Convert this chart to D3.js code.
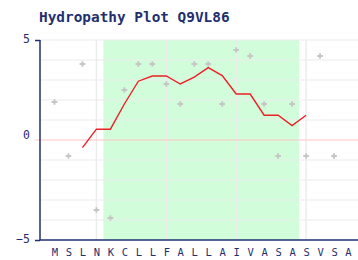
<!DOCTYPE html>
<html>
<head>
<meta charset="utf-8">
<script src="https://cdn.jsdelivr.net/npm/d3@7"></script>
<style>
  html, body { margin: 0; padding: 0; background: #fff; }
  svg { display: block; }
</style>
</head>
<body>
<div id="mainContainer"></div>
<script>
'use strict';

var svgWidth = 358,
    svgHeight = 260,
    navy = '#1f2f70';

// residues along the sequence
var residues = ['M', 'S', 'L', 'N', 'K', 'C', 'L', 'L', 'F', 'A', 'L',
                'L', 'A', 'I', 'V', 'A', 'S', 'A', 'S', 'V', 'S', 'A'];

// per-residue hydropathy (grey markers, first 21 residues shown)
var hydroValues = [1.9, -0.8, 3.8, -3.5, -3.9, 2.5, 3.8, 3.8, 2.8, 1.8, 3.8,
                   3.8, 1.8, 4.5, 4.2, 1.8, -0.8, 1.8, -0.8, 4.2, -0.8];

// window average (red line), starts at residue 3
var avgStart = 3;
var avgValues = [-0.38, 0.54, 0.54, 1.8, 2.94, 3.2, 3.2, 2.8, 3.14,
                 3.62, 3.22, 2.3, 2.3, 1.24, 1.24, 0.72, 1.24];

// highlighted hydrophobic region (first and last residue)
var bandResidues = [5, 18];

var gridResidues = [4, 9, 14, 19];
var yGridValues = [-4, -3, -2, -1, 1, 2, 3, 4, 5];
var yTickValues = [-5, 0, 5];

var svg = d3.select('#mainContainer')
    .append('svg')
    .attr('width', svgWidth)
    .attr('height', svgHeight);

var x = d3.scaleLinear().domain([0, 22.75]).range([40.5, 358.5]);
var y = d3.scaleLinear().domain([-5, 5]).range([240, 40]);

// title
svg.append('text')
    .attr('x', 39)
    .attr('y', 22)
    .attr('fill', navy)
    .style('font-family', 'DejaVu Sans Mono, monospace')
    .style('font-weight', 'bold')
    .style('font-size', '14.4px')
    .text('Hydropathy Plot Q9VL86');

//green band
svg.append('rect')
    .attr('x', x(bandResidues[0] - 0.5))
    .attr('y', y(5))
    .attr('width', x(bandResidues[1] + 0.5) - x(bandResidues[0] - 0.5))
    .attr('height', y(-5) - y(5))
    .attr('fill', '#d2fdda');

//grid
svg.selectAll('.hgrid')
    .data(yGridValues)
    .enter()
    .append('line')
    .attr('class', 'hgrid')
    .attr('x1', 40)
    .attr('x2', svgWidth)
    .attr('y1', function (d) { return y(d); })
    .attr('y2', function (d) { return y(d); })
    .attr('stroke', '#ececec')
    .attr('stroke-width', 1.2);

svg.selectAll('.vgrid')
    .data(gridResidues)
    .enter()
    .append('line')
    .attr('class', 'vgrid')
    .attr('x1', function (d) { return x(d); })
    .attr('x2', function (d) { return x(d); })
    .attr('y1', y(5))
    .attr('y2', y(-5))
    .attr('stroke', '#ececec')
    .attr('stroke-width', 1.5);

//zero line
svg.append('line')
    .attr('x1', 35)
    .attr('x2', svgWidth)
    .attr('y1', y(0))
    .attr('y2', y(0))
    .attr('stroke', '#ffc4c4')
    .attr('stroke-width', 1);

//points
svg.selectAll('.pt')
    .data(hydroValues)
    .enter()
    .append('path')
    .attr('class', 'pt')
    .attr('d', d3.symbol().type(d3.symbolCross).size(18))
    .attr('transform', function (d, i) {
        return 'translate(' + x(i + 1) + ',' + y(d) + ')';
    })
    .attr('fill', '#c6c6c6');

//average line
var line = d3.line()
    .x(function (d, i) { return x(avgStart + i); })
    .y(function (d) { return y(d); });

svg.append('path')
    .datum(avgValues)
    .attr('d', line)
    .attr('fill', 'none')
    .attr('stroke', '#ee2026')
    .attr('stroke-width', 1.4);

//axes
var yAxis = svg.append('g')
    .attr('transform', 'translate(40,0)')
    .call(d3.axisLeft(y).tickValues(yTickValues).tickSize(5).tickFormat(d3.format('d')));

yAxis.selectAll('.tick line')
    .attr('stroke', function (d) { return d === 0 ? 'none' : navy; })
    .attr('stroke-width', 1.5);

yAxis.selectAll('.tick text')
    .attr('x', -10)
    .attr('dy', function (d) { return d === 0 ? '-0.1em' : '0.2em'; })
    .attr('fill', navy)
    .style('font-family', 'DejaVu Sans Mono, monospace')
    .style('font-size', '11.5px');

yAxis.select('.domain')
    .attr('d', 'M0,' + y(5) + 'V' + y(-5))
    .attr('stroke', navy)
    .attr('stroke-width', 1.5);

var xAxis = svg.append('g')
    .attr('transform', 'translate(0,' + y(-5) + ')')
    .call(d3.axisBottom(x)
        .tickValues(d3.range(1, residues.length + 1))
        .tickSize(0)
        .tickFormat(function (d) { return residues[d - 1]; }));

xAxis.select('.domain')
    .attr('d', 'M40,0H' + svgWidth)
    .attr('stroke', navy)
    .attr('stroke-width', 1.5);

xAxis.selectAll('.tick text')
    .attr('y', 9)
    .attr('dy', '0.71em')
    .attr('fill', navy)
    .style('font-family', 'DejaVu Sans Mono, monospace')
    .style('font-size', '10.5px');
</script>
</body>
</html>
